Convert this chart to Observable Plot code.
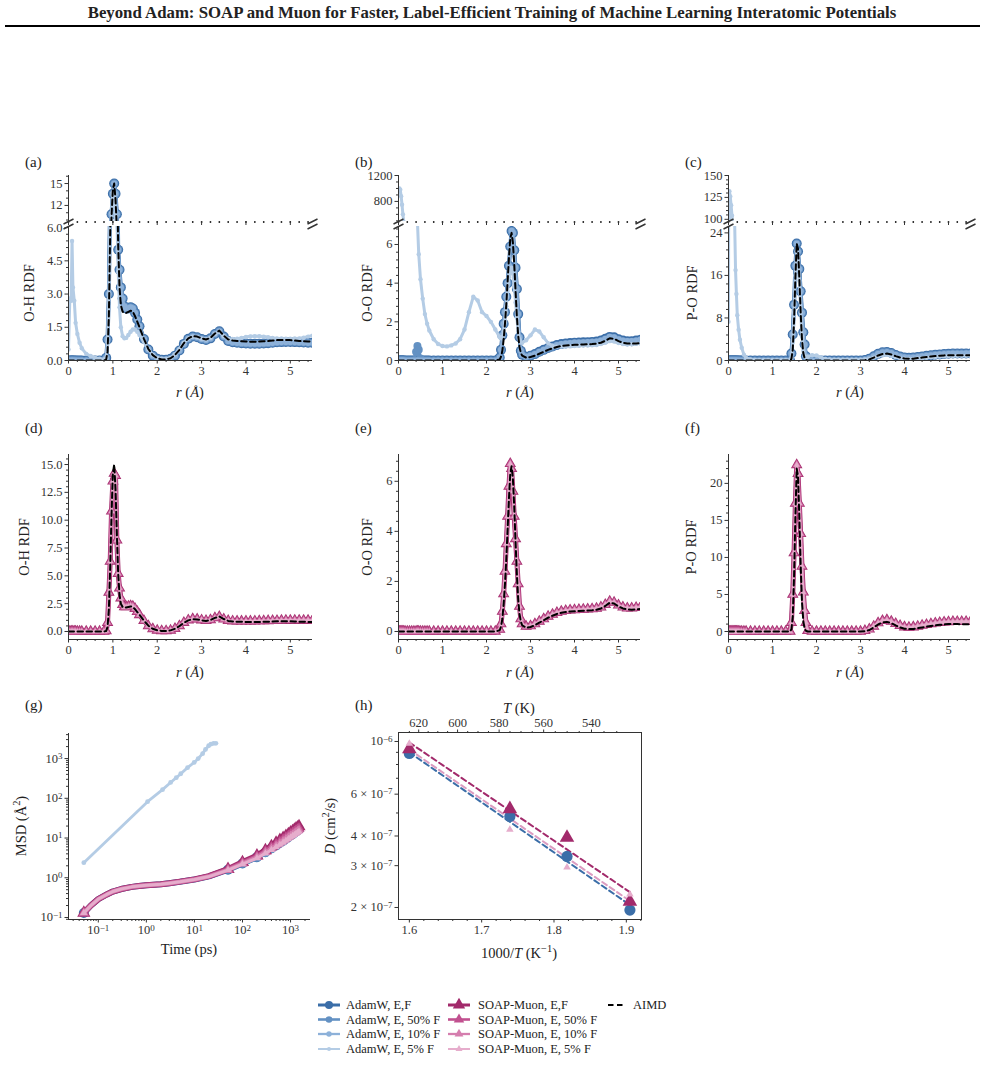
<!DOCTYPE html>
<html><head><meta charset="utf-8">
<script src="https://cdn.jsdelivr.net/npm/d3@7"></script>
<script src="https://cdn.jsdelivr.net/npm/@observablehq/plot@0.6"></script>
<style>
body{margin:0;background:#fff;}
#page{position:relative;width:985px;height:1080px;overflow:hidden;font-family:"Liberation Serif","Times New Roman",serif;color:#222;}
sup{font-size:0.72em;line-height:0;}
</style></head><body><div id="page"></div>
<script>
// ---------------- DATA ----------------
// O-H RDF
const rOH = [0, 0.03, 0.06, 0.08, 0.1, 0.13, 0.16, 0.2, 0.25, 0.3,
 0.4, 0.5, 0.6, 0.7, 0.8,
 0.85, 0.88, 0.91, 0.94, 0.97, 1.0, 1.03, 1.06, 1.09, 1.12, 1.15, 1.18,
 1.22, 1.26, 1.3, 1.35, 1.4, 1.45, 1.5, 1.55, 1.6,
 1.7, 1.8, 1.9, 2.0, 2.1, 2.2, 2.3, 2.4, 2.5, 2.6,
 2.7, 2.8, 2.9, 3.0, 3.1, 3.2, 3.3, 3.4, 3.5, 3.6,
 3.7, 3.8, 3.9, 4.0, 4.1, 4.2, 4.3, 4.4, 4.5, 4.6,
 4.7, 4.8, 4.9, 5.0, 5.1, 5.2, 5.3, 5.4, 5.5];
const aimdOH = [0, 0, 0, 0, 0, 0, 0, 0, 0, 0,
 0, 0, 0, 0, 0,
 0.05, 0.4, 2.0, 5.8, 10.5, 14.2, 15.0, 12.8, 8.8, 5.2, 3.3, 2.5,
 2.2, 2.15, 2.15, 2.2, 2.25, 2.2, 2.0, 1.75, 1.5,
 0.98, 0.52, 0.24, 0.1, 0.05, 0.05, 0.1, 0.25, 0.48, 0.78,
 1.0, 1.1, 1.08, 1.0, 0.95, 1.02, 1.22, 1.35, 1.12, 0.95,
 0.9, 0.88, 0.87, 0.86, 0.85, 0.85, 0.86, 0.87, 0.88, 0.9,
 0.92, 0.93, 0.93, 0.92, 0.9, 0.88, 0.87, 0.86, 0.86];
const adamOH = [0, 0, 0, 0, 0, 0, 0, 0, 0, 0,
 0, 0, 0, 0, 0,
 0.12, 0.95, 3.0, 7.5, 10.8, 13.6, 15.0, 13.6, 10.8, 5.0, 4.1, 3.3,
 2.8, 2.45, 2.35, 2.35, 2.4, 2.35, 2.15, 1.85, 1.55,
 0.97, 0.5, 0.22, 0.08, 0.03, 0.03, 0.08, 0.22, 0.45, 0.75,
 0.98, 1.08, 1.05, 0.97, 0.93, 1.0, 1.2, 1.32, 1.08, 0.88,
 0.82, 0.8, 0.78, 0.77, 0.76, 0.76, 0.76, 0.77, 0.78, 0.8,
 0.82, 0.83, 0.84, 0.84, 0.83, 0.82, 0.81, 0.8, 0.8];
const adam5OH = [0.5, 2.8, 2.7, 5.4, 3.3, 2.7, 1.7, 1.2, 0.8, 0.55,
 0.3, 0.2, 0.12, 0.08, 0.05,
 0.1, 0.8, 2.8, 7.0, 11.0, 13.8, 13.5, 10.5, 6.5, 4.0, 2.4, 1.5,
 1.1, 1.0, 1.02, 1.15, 1.3, 1.4, 1.4, 1.3, 1.15,
 0.85, 0.5, 0.25, 0.12, 0.08, 0.08, 0.12, 0.28, 0.52, 0.8,
 1.0, 1.08, 1.05, 0.98, 0.95, 1.02, 1.2, 1.3, 1.1, 0.98,
 0.97, 0.98, 1.02, 1.06, 1.09, 1.1, 1.1, 1.08, 1.05, 1.02,
 1.0, 0.99, 0.98, 0.98, 0.99, 1.0, 1.03, 1.08, 1.12];
const soapOH = [0, 0, 0, 0, 0, 0, 0, 0, 0, 0,
 0, 0, 0, 0, 0,
 0.05, 0.8, 3.5, 6.3, 10.8, 13.5, 14.2, 14.0, 8.2, 5.2, 3.9, 3.0,
 2.4, 2.2, 2.2, 2.25, 2.3, 2.25, 2.05, 1.78, 1.5,
 0.97, 0.5, 0.23, 0.1, 0.05, 0.05, 0.1, 0.25, 0.5, 0.8,
 1.02, 1.12, 1.1, 1.02, 0.97, 1.04, 1.22, 1.32, 1.1, 0.97,
 0.93, 0.92, 0.92, 0.92, 0.92, 0.93, 0.94, 0.95, 0.96, 0.97,
 0.98, 0.99, 1.0, 1.0, 1.0, 1.0, 1.0, 1.0, 1.0];

// O-O RDF
const rOO = [0, 0.02, 0.04, 0.06, 0.08, 0.1, 0.12,
 0.15, 0.2, 0.25, 0.3, 0.35, 0.4,
 0.43, 0.46, 0.5, 0.55, 0.6, 0.65, 0.7,
 0.8, 0.9, 1.0, 1.1, 1.2, 1.3, 1.4, 1.5, 1.6, 1.7, 1.8, 1.9, 2.0, 2.1, 2.2,
 2.3, 2.33, 2.36, 2.39, 2.42, 2.45, 2.48, 2.51, 2.54, 2.57, 2.6, 2.63, 2.66, 2.69, 2.72, 2.75, 2.78, 2.81,
 2.9,
 3.0, 3.1, 3.2, 3.3, 3.4, 3.5, 3.6, 3.7, 3.8, 3.9,
 4.0, 4.1, 4.2, 4.3, 4.4, 4.5, 4.6, 4.7, 4.8, 4.9,
 5.0, 5.1, 5.2, 5.3, 5.4, 5.5];
const aimdOO = [0, 0, 0, 0, 0, 0, 0,
 0, 0, 0, 0, 0, 0,
 0, 0, 0, 0, 0, 0, 0,
 0, 0, 0, 0, 0, 0, 0, 0, 0, 0, 0, 0, 0, 0, 0,
 0.05, 0.2, 0.5, 1.1, 1.9, 2.9, 4.1, 5.3, 6.3, 6.6, 6.1, 5.0, 3.6, 2.3, 1.3, 0.7, 0.4, 0.25,
 0.15,
 0.18, 0.25, 0.35, 0.45, 0.55, 0.63, 0.7, 0.75, 0.78, 0.8,
 0.81, 0.82, 0.83, 0.84, 0.85, 0.87, 0.92, 1.02, 1.15, 1.12,
 1.0, 0.92, 0.88, 0.87, 0.88, 0.9];
const adamOO = [0, 0, 0, 0, 0, 0, 0,
 0, 0, 0, 0, 0, 0,
 0, 0, 0, 0, 0, 0, 0,
 0, 0, 0, 0, 0, 0, 0, 0, 0, 0, 0, 0, 0, 0, 0,
 0.15, 0.55, 1.3, 1.9, 2.5, 3.3, 4.0, 4.9, 5.9, 6.7, 6.6, 5.7, 4.8, 3.7, 2.4, 1.2, 0.5, 0.3,
 0.2,
 0.25, 0.33, 0.45, 0.55, 0.65, 0.73, 0.8, 0.85, 0.88, 0.9,
 0.92, 0.93, 0.94, 0.95, 0.96, 0.98, 1.03, 1.12, 1.22, 1.2,
 1.1, 1.03, 1.0, 1.0, 1.03, 1.08];
const adam50OO = [0, 0, 0, 0, 0, 0, 0,
 0, 0, 0, 0, 0, 0.45,
 0.75, 0.55, 0.1, 0, 0, 0, 0,
 0, 0, 0, 0, 0, 0, 0, 0, 0, 0, 0, 0, 0, 0, 0,
 0.15, 0.55, 1.3, 1.9, 2.5, 3.3, 4.0, 4.9, 5.9, 6.7, 6.6, 5.7, 4.8, 3.7, 2.4, 1.2, 0.5, 0.3,
 0.2,
 0.24, 0.32, 0.43, 0.53, 0.62, 0.7, 0.77, 0.82, 0.85, 0.87,
 0.89, 0.9, 0.91, 0.92, 0.93, 0.95, 1.0, 1.09, 1.19, 1.17,
 1.07, 1.0, 0.97, 0.97, 1.0, 1.04];
const adam5OO = [950, 1000, 980, 880, 750, 600, 480,
 300, 120, 55, 28, 15, 9,
 7.2, 5.5, 4.2, 3.2, 2.4, 1.9, 1.55,
 1.1, 0.85, 0.75, 0.73, 0.78, 0.88, 1.1, 1.6, 2.5, 3.3, 3.1, 2.5, 2.3, 2.0, 1.6,
 1.2, 1.15, 1.2, 1.5, 2.0, 2.8, 3.6, 4.3, 4.7, 4.8, 4.5, 3.8, 3.0, 2.2, 1.5, 1.1, 0.95, 0.92,
 1.05,
 1.3, 1.6, 1.5, 1.2, 0.9, 0.75, 0.72, 0.72, 0.72, 0.73,
 0.75, 0.76, 0.77, 0.78, 0.79, 0.8, 0.85, 0.92, 1.0, 0.98,
 0.9, 0.85, 0.83, 0.84, 0.86, 0.88];
const soapOO = [0, 0, 0, 0, 0, 0, 0,
 0, 0, 0, 0, 0, 0,
 0, 0, 0, 0, 0, 0, 0,
 0, 0, 0, 0, 0, 0, 0, 0, 0, 0, 0, 0, 0, 0, 0,
 0.08, 0.3, 0.8, 1.5, 2.4, 3.5, 4.6, 5.8, 6.7, 6.5, 5.6, 4.6, 3.7, 2.8, 1.9, 1.0, 0.5, 0.3,
 0.2,
 0.22, 0.3, 0.4, 0.5, 0.6, 0.68, 0.75, 0.8, 0.83, 0.85,
 0.86, 0.87, 0.88, 0.89, 0.9, 0.92, 0.97, 1.07, 1.2, 1.16,
 1.05, 0.97, 0.93, 0.93, 0.95, 0.98];

// P-O RDF
const rPO = [0, 0.02, 0.04, 0.06, 0.08, 0.1, 0.12, 0.14, 0.16, 0.18, 0.2,
 0.23, 0.26, 0.3, 0.35, 0.4,
 0.5, 0.6, 0.7, 0.8, 0.9, 1.0, 1.1, 1.2, 1.3, 1.4,
 1.43, 1.46, 1.49, 1.52, 1.55, 1.58, 1.61, 1.64, 1.67, 1.7, 1.73, 1.76,
 1.8,
 1.9, 2.0, 2.1, 2.2, 2.3, 2.4, 2.5, 2.6, 2.7, 2.8, 2.9, 3.0,
 3.1, 3.2, 3.3, 3.4, 3.5, 3.6, 3.7, 3.8, 3.9, 4.0,
 4.1, 4.2, 4.3, 4.4, 4.5, 4.6, 4.7, 4.8, 4.9, 5.0,
 5.1, 5.2, 5.3, 5.4, 5.5];
const aimdPO = [0, 0, 0, 0, 0, 0, 0, 0, 0, 0, 0,
 0, 0, 0, 0, 0,
 0, 0, 0, 0, 0, 0, 0, 0, 0, 0,
 0.3, 2.0, 7.5, 15.5, 22.0, 21.0, 15.5, 9.0, 4.0, 1.4, 0.4, 0.1,
 0,
 0, 0, 0, 0, 0, 0, 0, 0, 0, 0, 0, 0,
 0.05, 0.2, 0.55, 0.95, 1.22, 1.3, 1.12, 0.82, 0.55, 0.38,
 0.32, 0.35, 0.45, 0.55, 0.65, 0.75, 0.84, 0.9, 0.96, 1.0,
 1.01, 1.0, 0.98, 0.97, 0.97];
const adamPO = [0, 0, 0, 0, 0, 0, 0, 0, 0, 0, 0,
 0, 0, 0, 0, 0,
 0, 0, 0, 0, 0, 0, 0, 0, 0, 0,
 1.3, 4.9, 10.5, 17.8, 22.0, 20.5, 17.2, 13.0, 9.0, 5.3, 3.0, 0.8,
 0.1,
 0, 0, 0, 0, 0, 0, 0, 0, 0, 0, 0, 0,
 0.1, 0.35, 0.8, 1.25, 1.55, 1.6, 1.4, 1.05, 0.75, 0.58,
 0.52, 0.56, 0.66, 0.77, 0.88, 0.98, 1.08, 1.15, 1.22, 1.27,
 1.3, 1.31, 1.32, 1.33, 1.34];
const adam5PO = [7.3, 132, 126, 116, 104, 80, 45, 26, 17, 12.5, 8.5,
 5.8, 3.9, 2.4, 1.1, 0.5,
 0.2, 0.1, 0.05, 0.05, 0.05, 0.05, 0.05, 0.05, 0.05, 0.05,
 0.5, 3.5, 9.0, 16.0, 20.5, 19.5, 15.0, 9.0, 4.5, 1.8, 0.8, 0.6,
 0.7,
 1.0, 0.95, 0.6, 0.3, 0.2, 0.15, 0.15, 0.15, 0.15, 0.15, 0.15, 0.15,
 0.2, 0.3, 0.55, 0.8, 1.0, 1.05, 0.9, 0.65, 0.45, 0.32,
 0.28, 0.3, 0.38, 0.45, 0.52, 0.6, 0.68, 0.74, 0.8, 0.84,
 0.86, 0.87, 0.87, 0.87, 0.87];
const soapPO = [0, 0, 0, 0, 0, 0, 0, 0, 0, 0, 0,
 0, 0, 0, 0, 0,
 0, 0, 0, 0, 0, 0, 0, 0, 0, 0,
 1.2, 5.0, 10.6, 17.3, 22.5, 21.3, 17.3, 13.2, 8.8, 5.3, 2.8, 1.2,
 0.1,
 0, 0, 0, 0, 0, 0, 0, 0, 0, 0, 0, 0,
 0.1, 0.3, 0.7, 1.15, 1.45, 1.55, 1.35, 1.05, 0.78, 0.6,
 0.55, 0.6, 0.7, 0.82, 0.93, 1.03, 1.12, 1.2, 1.26, 1.3,
 1.32, 1.33, 1.33, 1.33, 1.33];

// MSD (g)
const tMsd = [0.05, 0.07, 0.1, 0.15, 0.2, 0.3, 0.5, 0.7, 1, 2, 3, 5, 10, 20,
 50, 100, 200, 300, 400, 500, 600, 700, 800, 900, 1000, 1100, 1200, 1300, 1400, 1500];
const msdAdamEF = [0.13, 0.2, 0.29, 0.38, 0.45, 0.52, 0.59, 0.62, 0.65, 0.69, 0.73, 0.79, 0.9, 1.08,
 1.6, 2.3, 3.3, 4.4, 5.5, 6.5, 7.6, 8.6, 9.6, 10.6, 11.6, 12.6, 13.6, 14.6, 15.6, 16.6];
const msdAdam50 = [0.13, 0.2, 0.29, 0.38, 0.45, 0.52, 0.59, 0.62, 0.65, 0.69, 0.73, 0.79, 0.9, 1.08,
 1.58, 2.25, 3.2, 4.2, 5.2, 6.2, 7.2, 8.1, 9.1, 10.0, 11.0, 11.9, 12.8, 13.7, 14.6, 15.5];
const msdAdam10 = [0.13, 0.2, 0.29, 0.38, 0.45, 0.52, 0.59, 0.62, 0.65, 0.69, 0.73, 0.79, 0.9, 1.08,
 1.62, 2.35, 3.4, 4.5, 5.6, 6.7, 7.8, 8.9, 10.0, 11.0, 12.0, 13.0, 14.0, 15.0, 16.0, 17.0];
const msdSoapEF = [0.13, 0.2, 0.29, 0.38, 0.45, 0.52, 0.59, 0.62, 0.65, 0.69, 0.73, 0.8, 0.91, 1.1,
 1.65, 2.45, 3.6, 4.9, 6.2, 7.5, 8.8, 10.0, 11.2, 12.4, 13.6, 14.8, 16.0, 17.2, 18.4, 19.6];
const msdSoap50 = [0.13, 0.2, 0.29, 0.38, 0.45, 0.52, 0.59, 0.62, 0.65, 0.69, 0.73, 0.79, 0.9, 1.09,
 1.6, 2.35, 3.4, 4.6, 5.8, 6.9, 8.0, 9.1, 10.2, 11.2, 12.3, 13.3, 14.3, 15.3, 16.3, 17.3];
const msdSoap10 = [0.13, 0.2, 0.29, 0.38, 0.45, 0.52, 0.59, 0.62, 0.65, 0.69, 0.73, 0.79, 0.9, 1.08,
 1.58, 2.28, 3.3, 4.4, 5.4, 6.4, 7.4, 8.4, 9.4, 10.4, 11.4, 12.3, 13.2, 14.1, 15.0, 15.9];
const msdSoap5 = [0.13, 0.2, 0.29, 0.38, 0.45, 0.52, 0.59, 0.62, 0.65, 0.69, 0.73, 0.79, 0.9, 1.07,
 1.55, 2.2, 3.1, 4.1, 5.0, 5.9, 6.8, 7.7, 8.6, 9.5, 10.4, 11.2, 12.0, 12.8, 13.6, 14.4];
const tMsdAdam5 = [0.05, 1.06, 2.17, 3.2, 4.2, 5.2, 7.2, 9.9, 12, 14.8, 17, 19.8, 22, 25, 28];
const msdAdam5 = [2.4, 82, 165, 250, 330, 415, 590, 800, 1000, 1330, 1700, 2100, 2300, 2400, 2420];

// Diffusion coefficients (h)
const invT = [1.6, 1.739, 1.818, 1.905];
const dAdamEF = [8.9e-7, 4.83e-7, 3.28e-7, 1.95e-7];
const dSoapEF = [9.3e-7, 5.2e-7, 3.94e-7, 2.12e-7];
const dSoap5 = [9.8e-7, 4.26e-7, 2.95e-7, 2.27e-7];
const fitX = [1.6, 1.905];
const fitAdamEF = [9.0e-7, 2.05e-7];
const fitSoapEF = [9.9e-7, 2.32e-7];
const fitSoap5 = [9.25e-7, 2.13e-7];

// Tick labels
const xTicksR = [0, 1, 2, 3, 4, 5];
const tempTicks = [620, 600, 580, 560, 540];
const dTicks = [2e-7, 3e-7, 4e-7, 6e-7, 1e-6];
const dTickText = ["2 × 10^-7", "3 × 10^-7", "4 × 10^-7", "6 × 10^-7", "10^-6"];
const invTTicks = [1.6, 1.7, 1.8, 1.9];
const logTicks = [0.1, 1, 10, 100, 1000];

// ---------------- STYLE ----------------
const INK = "#333";
const FONT = "'Liberation Serif','Times New Roman',serif";
const TICKFS = 12.5;
const LABFS = 14.5;
const ADAM = [
  {name: "AdamW, E,F", color: "#3b6ea8", r: 5, sw: 4, symbol: "circle"},
  {name: "AdamW, E, 50% F", color: "#6391c3", r: 4, sw: 3.4, symbol: "circle"},
  {name: "AdamW, E, 10% F", color: "#8db1d9", r: 3.1, sw: 2.8, symbol: "circle"},
  {name: "AdamW, E, 5% F", color: "#b4cce5", r: 2.2, sw: 3, symbol: "circle"}
];
const SOAP = [
  {name: "SOAP-Muon, E,F", color: "#a22a6b", r: 4.3, sw: 5, symbol: "triangle"},
  {name: "SOAP-Muon, E, 50% F", color: "#c1508f", r: 3.5, sw: 4, symbol: "triangle"},
  {name: "SOAP-Muon, E, 10% F", color: "#d57eae", r: 2.8, sw: 3, symbol: "triangle"},
  {name: "SOAP-Muon, E, 5% F", color: "#e6adcc", r: 2.1, sw: 2.2, symbol: "triangle"}
];

const page = document.getElementById("page");
const P = (xs, ys) => {
  if (xs.length !== ys.length) throw new Error("length mismatch " + xs.length + " vs " + ys.length);
  return xs.map((x, i) => ({x, y: ys[i]}));
};
const pow10 = d => "10^" + Math.round(Math.log10(d));

function stepTicks(lo, hi, step, skip) {
  const out = [];
  const n = Math.round((hi - lo) / step);
  for (let i = 0; i <= n; i++) {
    const v = +(lo + i * step).toFixed(6);
    if (!skip || !skip.some(s => Math.abs(s - v) < 1e-9)) out.push(v);
  }
  return out;
}
function logMinor(lo, hi) {
  const out = [];
  for (let e = Math.floor(Math.log10(lo)); e <= Math.ceil(Math.log10(hi)); e++)
    for (let m = 2; m <= 9; m++) { const v = m * Math.pow(10, e); if (v >= lo && v <= hi) out.push(v); }
  return out;
}

function axY(major, minor, fmt, anchor = "left") {
  return [
    Plot.axisY({anchor, ticks: minor, tickSize: 2, tickFormat: () => "", label: null}),
    Plot.axisY({anchor, ticks: major, tickSize: 3.5, tickPadding: 2.5, tickFormat: fmt, label: null, fontSize: TICKFS})
  ];
}
function axX(major, minor, fmt, anchor = "bottom") {
  return [
    Plot.axisX({anchor, ticks: minor, tickSize: 2, tickFormat: () => "", label: null}),
    Plot.axisX({anchor, ticks: major, tickSize: 3.5, tickPadding: 2.5, tickFormat: fmt, label: null, fontSize: TICKFS})
  ];
}

// turn "base^exp" tick texts into a raised exponent
function fixSup(svg) {
  const ns = "http://www.w3.org/2000/svg";
  svg.querySelectorAll("text").forEach(t => {
    const s = t.textContent;
    const m = s.match(/^(.*)\^(-?\d+)$/);
    if (!m) return;
    t.textContent = "";
    const a = document.createElementNS(ns, "tspan");
    a.textContent = m[1];
    const b = document.createElementNS(ns, "tspan");
    b.textContent = m[2].replace("-", "\u2212");
    b.setAttribute("dy", "-0.42em");
    b.setAttribute("font-size", "0.72em");
    t.append(a, b);
  });
}

function place(svg, left, top) {
  svg.style.position = "absolute";
  svg.style.left = left + "px";
  svg.style.top = top + "px";
  page.appendChild(svg);
}
function chart(left, top, o) {
  const svg = Plot.plot({
    width: o.width, height: o.height,
    marginLeft: o.ml ?? 68, marginRight: o.mr, marginTop: o.mt, marginBottom: o.mb,
    x: o.x, y: o.y, marks: o.marks,
    style: {fontFamily: FONT, fontSize: TICKFS + "px", color: INK, background: "transparent", overflow: "visible"}
  });
  fixSup(svg);
  place(svg, left, top);
}
function text(html, x, y, {size = LABFS, rotate = 0, align = "center"} = {}) {
  const d = document.createElement("div");
  d.innerHTML = html;
  const tx = align === "center" ? "-50%" : "0";
  d.style.cssText = `position:absolute;left:${x}px;top:${y}px;font-size:${size}px;white-space:nowrap;line-height:1;color:#222;transform:translate(${tx},-50%) rotate(${rotate}deg);`;
  page.appendChild(d);
}

function seriesMarks(xs, ys, s, extra = {}) {
  const d = P(xs, ys);
  return [
    Plot.line(d, {x: "x", y: "y", stroke: s.color, strokeWidth: extra.sw ?? s.sw, clip: true}),
    Plot.dot(extra.dotFilter ? d.filter(extra.dotFilter) : d,
      {x: "x", y: "y", r: extra.r ?? s.r, fill: s.color, symbol: s.symbol, clip: true})
  ];
}
function aimdMark(xs, ys) {
  return Plot.line(P(xs, ys), {x: "x", y: "y", stroke: "#000", strokeWidth: 2, strokeDasharray: "5.5,3.5", clip: true});
}
const slash = {draw(ctx) { ctx.moveTo(-5, 2.5); ctx.lineTo(5, -2.5); }};

const xMinorR = stepTicks(0, 5.4, 0.2, xTicksR);
const xDotsR = stepTicks(0, 5.4, 0.2);

// ---------------- TITLE ----------------
text("<b>Beyond Adam: SOAP and Muon for Faster, Label-Efficient Training of Machine Learning Interatomic Potentials</b>", 492, 13, {size: 16.8});
const rule = document.createElement("div");
rule.style.cssText = "position:absolute;left:5px;top:25px;width:975px;height:0;border-top:2px solid #000;";
page.appendChild(rule);

// ---------------- ROW 1: broken-axis RDFs (AdamW) ----------------
const row1 = [
  {left: 0, mr: 18, r: rOH, aimd: aimdOH, series: [adamOH, adamOH, adamOH, adam5OH],
   upDom: [9.8, 16.1], upMaj: [12, 15], upMin: [10, 11, 13, 14, 16], upFmt: d => String(d),
   loDom: [0, 6.05], loMaj: [0, 1.5, 3, 4.5, 6], loMin: stepTicks(0, 6, 0.3, [0, 1.5, 3, 4.5, 6]), loFmt: d => d.toFixed(1),
   lab: "(a)", ylab: "O-H RDF", ylx: 29},
  {left: 330, mr: 20, r: rOO, aimd: aimdOO, series: [adamOO, adam50OO, adamOO, adam5OO],
   upDom: [490, 1200], upMaj: [800, 1200], upMin: [500, 600, 700, 900, 1000, 1100], upFmt: d => String(d),
   loDom: [0, 6.93], loMaj: [0, 2, 4, 6], loMin: stepTicks(0, 6.8, 0.4, [0, 2, 4, 6]), loFmt: d => String(d),
   lab: "(b)", ylab: "O-O RDF", ylx: 367},
  {left: 660, mr: 15, r: rPO, aimd: aimdPO, series: [adamPO, adamPO, adamPO, adam5PO],
   upDom: [97.5, 150], upMaj: [100, 125, 150], upMin: [105, 110, 115, 120, 130, 135, 140, 145], upFmt: d => String(d),
   loDom: [0, 25.2], loMaj: [0, 8, 16, 24], loMin: stepTicks(0, 24, 1.6, [0, 8, 16, 24]), loFmt: d => String(d),
   lab: "(c)", ylab: "P-O RDF", ylx: 692}
];
for (const p of row1) {
  const W = 330 - (p.left === 660 ? 5 : 0);
  const dataMarks = [];
  p.series.forEach((ys, i) => dataMarks.push(...seriesMarks(p.r, ys, ADAM[i])));
  dataMarks.push(aimdMark(p.r, p.aimd));
  // upper segment
  chart(p.left, 165, {
    width: W, height: 60, mr: p.mr, mt: 10, mb: 4,
    x: {domain: [0, 5.5]}, y: {domain: p.upDom},
    marks: [
      ...dataMarks,
      Plot.ruleX([0], {stroke: INK}),
      ...axY(p.upMaj, p.upMin, p.upFmt),
      Plot.axisX({ticks: xDotsR, tickSize: 2, tickFormat: () => "", label: null, strokeWidth: 1.5}),
      Plot.axisX({ticks: xTicksR, tickSize: 4, tickFormat: () => "", label: null}),
      Plot.dot([[0, p.upDom[0]], [5.5, p.upDom[0]]], {x: d => d[0], y: d => d[1], symbol: slash, stroke: INK, fill: "none"})
    ]
  });
  // lower segment
  chart(p.left, 222, {
    width: W, height: 180, mr: p.mr, mt: 4, mb: 42,
    x: {domain: [0, 5.5]}, y: {domain: p.loDom},
    marks: [
      ...dataMarks,
      Plot.ruleX([0], {stroke: INK}),
      Plot.ruleY([p.loDom[0]], {stroke: INK}),
      ...axY(p.loMaj, p.loMin, p.loFmt),
      ...axX(xTicksR, xMinorR, d => String(d)),
      Plot.dot([[0, p.loDom[1]], [5.5, p.loDom[1]]], {x: d => d[0], y: d => d[1], symbol: slash, stroke: INK, fill: "none"})
    ]
  });
  text(p.lab, p.left + 25, 162, {size: 15, align: "left"});
  text(p.ylab, p.ylx, 293, {rotate: -90});
  text("<i>r</i> (<i>Å</i>)", p.left + 190, 392);
}

// ---------------- ROW 2: SOAP-Muon RDFs ----------------
const row2 = [
  {left: 0, mr: 18, r: rOH, aimd: aimdOH, ys: soapOH, dom: [-0.72, 15.9], maj: [0, 2.5, 5, 7.5, 10, 12.5, 15],
   min: stepTicks(0, 15.5, 0.5, [0, 2.5, 5, 7.5, 10, 12.5, 15]), fmt: d => d.toFixed(1), lab: "(d)", ylab: "O-H RDF", ylx: 24},
  {left: 330, mr: 20, r: rOO, aimd: aimdOO, ys: soapOO, dom: [-0.32, 7.07], maj: [0, 2, 4, 6],
   min: stepTicks(0, 6.8, 0.4, [0, 2, 4, 6]), fmt: d => String(d), lab: "(e)", ylab: "O-O RDF", ylx: 367},
  {left: 660, mr: 15, r: rPO, aimd: aimdPO, ys: soapPO, dom: [-1.08, 23.9], maj: [0, 5, 10, 15, 20],
   min: stepTicks(0, 23, 1, [0, 5, 10, 15, 20]), fmt: d => String(d), lab: "(f)", ylab: "P-O RDF", ylx: 691}
];
for (const p of row2) {
  const W = 330 - (p.left === 660 ? 5 : 0);
  const marks = [];
  SOAP.forEach(s => marks.push(...seriesMarks(p.r, p.ys, s)));
  marks.push(aimdMark(p.r, p.aimd));
  chart(p.left, 450, {
    width: W, height: 230, mr: p.mr, mt: 4, mb: 41,
    x: {domain: [0, 5.5]}, y: {domain: p.dom},
    marks: [
      ...marks,
      Plot.ruleX([0], {stroke: INK}),
      Plot.ruleY([p.dom[0]], {stroke: INK}),
      ...axY(p.maj, p.min, p.fmt),
      ...axX(xTicksR, xMinorR, d => String(d))
    ]
  });
  text(p.lab, p.left + 25, 428, {size: 15, align: "left"});
  text(p.ylab, p.ylx, 547, {rotate: -90});
  text("<i>r</i> (<i>Å</i>)", p.left + 190, 672);
}

// ---------------- (g) MSD ----------------
{
  const xDom = [0.024, 2600], yDom = [0.089, 4270];
  const mk = t => t === 0.05 || t >= 50;
  const marks = [];
  const adamMsd = [msdAdamEF, msdAdam50, msdAdam10];
  adamMsd.forEach((ys, i) => marks.push(...seriesMarks(tMsd, ys, ADAM[i], {sw: 6 - i, dotFilter: d => mk(d.x), r: ADAM[i].r})));
  marks.push(...seriesMarks(tMsdAdam5, msdAdam5, ADAM[3], {sw: 2.8, r: 2.4}));
  const soapMsd = [msdSoapEF, msdSoap50, msdSoap10, msdSoap5];
  soapMsd.forEach((ys, i) => marks.push(...seriesMarks(tMsd, ys, SOAP[i], {sw: 6 - i, dotFilter: d => mk(d.x), r: SOAP[i].r + 0.6})));
  chart(0, 728, {
    width: 330, height: 240, mr: 20, mt: 5, mb: 49,
    x: {type: "log", domain: xDom}, y: {type: "log", domain: yDom},
    marks: [
      ...marks,
      Plot.ruleX([xDom[0]], {stroke: INK}),
      Plot.ruleY([yDom[0]], {stroke: INK}),
      ...axY(logTicks, logMinor(yDom[0], yDom[1]), pow10),
      ...axX(logTicks, logMinor(xDom[0], xDom[1]), pow10)
    ]
  });
  text("(g)", 25, 705, {size: 15, align: "left"});
  text("MSD (Å<sup>2</sup>)", 21, 826, {rotate: -90});
  text("Time (ps)", 189, 949);
}

// ---------------- (h) Arrhenius ----------------
{
  const xDom = [1.585, 1.921], yDom = [1.78e-7, 1.091e-6];
  const dash = "5.5,3.5";
  const fits = [[fitAdamEF, ADAM[0].color], [fitSoap5, "#dc9cc1"], [fitSoapEF, SOAP[0].color]];
  const marks = fits.map(([ys, c]) => Plot.line(P(fitX, ys), {x: "x", y: "y", stroke: c, strokeWidth: 2, strokeDasharray: dash}));
  marks.push(Plot.dot(P(invT, dAdamEF), {x: "x", y: "y", r: 5.6, fill: ADAM[0].color, symbol: "circle"}));
  marks.push(Plot.dot(P(invT, dSoapEF), {x: "x", y: "y", r: 5.4, fill: SOAP[0].color, symbol: "triangle"}));
  marks.push(Plot.dot(P(invT, dSoap5), {x: "x", y: "y", r: 2.8, fill: SOAP[3].color, symbol: "triangle"}));
  const tMinor = stepTicks(530, 625, 5, tempTicks).map(T => 1000 / T).filter(v => v >= xDom[0] && v <= xDom[1]);
  chart(330, 690, {
    width: 330, height: 278, mr: 19, mt: 42, mb: 49,
    x: {domain: xDom}, y: {type: "log", domain: yDom},
    marks: [
      ...marks,
      Plot.frame({stroke: INK}),
      ...axY(dTicks, logMinor(yDom[0], yDom[1]).filter(v => !dTicks.some(t => Math.abs(t - v) < 1e-12)), d => dTickText[dTicks.findIndex(t => Math.abs(t - d) < 1e-12)]),
      ...axX(invTTicks, stepTicks(1.6, 1.92, 0.02, invTTicks), d => d.toFixed(1)),
      ...axX(tempTicks.map(T => 1000 / T), tMinor, d => String(Math.round(1000 / d)), "top")
    ]
  });
  text("(h)", 355, 705, {size: 15, align: "left"});
  text("<i>D</i> (cm<sup>2</sup>/s)", 330, 826, {rotate: -90});
  text("1000/<i>T</i> (K<sup>−1</sup>)", 519, 953);
  text("<i>T</i> (K)", 519, 708);
}

// ---------------- LEGEND ----------------
{
  const svg = d3.create("svg").attr("width", 420).attr("height", 66)
    .style("position", "absolute").style("left", "300px").style("top", "992px")
    .style("font-family", FONT).style("font-size", "12.5px");
  const rows = [13, 27.5, 42, 57];
  const legR = [4, 3.3, 2.7, 2];
  const legW = [3, 2.6, 2.3, 2];
  const cols = [{set: ADAM, x1: 18, x2: 40, tx: 46}, {set: SOAP, x1: 148, x2: 170, tx: 178}];
  for (const c of cols) {
    c.set.forEach((s, i) => {
      const y = rows[i];
      svg.append("line").attr("x1", c.x1).attr("x2", c.x2).attr("y1", y).attr("y2", y)
        .attr("stroke", s.color).attr("stroke-width", legW[i]);
      const sym = s.symbol === "circle" ? d3.symbolCircle : d3.symbolTriangle;
      const rr = s.symbol === "circle" ? legR[i] : legR[i] + 0.6;
      svg.append("path").attr("d", d3.symbol(sym, Math.PI * rr * rr)())
        .attr("transform", `translate(${(c.x1 + c.x2) / 2},${y})`).attr("fill", s.color);
      svg.append("text").attr("x", c.tx).attr("y", y).attr("dy", "0.35em").attr("fill", "#222").text(s.name);
    });
  }
  svg.append("line").attr("x1", 308).attr("x2", 326).attr("y1", rows[0]).attr("y2", rows[0])
    .attr("stroke", "#000").attr("stroke-width", 2).attr("stroke-dasharray", "5.5,3.5");
  svg.append("text").attr("x", 333).attr("y", rows[0]).attr("dy", "0.35em").attr("fill", "#222").text("AIMD");
  page.appendChild(svg.node());
}
</script></body></html>
